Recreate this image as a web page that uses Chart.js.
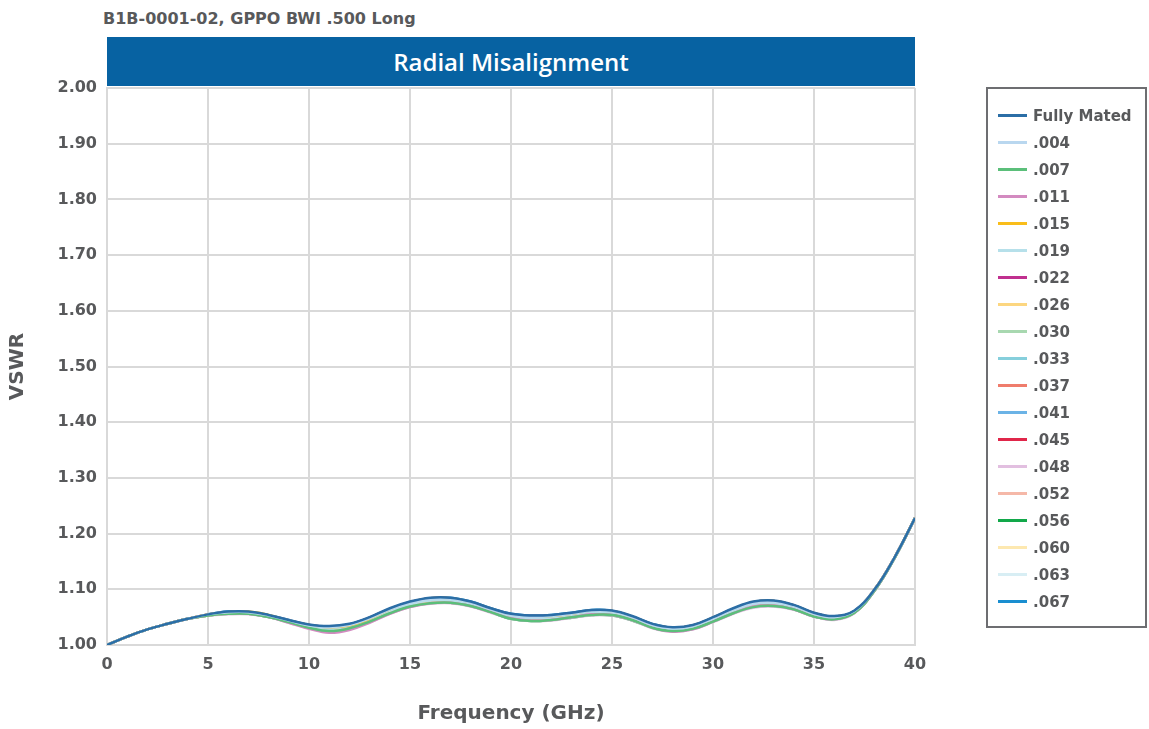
<!DOCTYPE html>
<html>
<head>
<meta charset="utf-8">
<script src="https://cdn.jsdelivr.net/npm/chart.js@4/dist/chart.umd.min.js"></script>
<style>
  body { margin: 0; background: #fff; width: 1149px; height: 729px; overflow: hidden; position: relative; }
  #subtitle { position: absolute; left: 103px; top: 9px; font: bold 16px "DejaVu Sans"; color: #58595b; white-space: nowrap; }
  #band { position: absolute; left: 107px; top: 37px; width: 808px; height: 49px; background: #0762a2;
          color: #fff; text-align: center; font: 600 24px "Open Sans"; line-height: 50px; }
  #chart { position: absolute; left: 0; top: 0; }
  #legend { position: absolute; left: 986px; top: 87px; width: 161px; height: 541px; box-sizing: border-box;
            border: 2px solid #6d6e71; padding-top: 13px; }
  .row { height: 27px; display: flex; align-items: center; }
  .swatch { width: 29px; height: 3px; margin-left: 10px; margin-right: 6px; }
  .lbl { font: bold 15px "DejaVu Sans"; color: #58595b; white-space: nowrap; }
</style>
</head>
<body>
<div id="subtitle">B1B-0001-02, GPPO BWI .500 Long</div>
<canvas id="chart" width="1149" height="729"></canvas>
<div id="band">Radial Misalignment</div>
<div id="legend"></div>
<script>
// ── DATA ──
const freq = [0,1,2,3,4,5,6,7,8,9,10,11,12,13,14,15,16,17,18,19,20,21,22,23,24,25,26,27,28,29,30,31,32,33,34,35,36,37,38,39,40];
const xTicks = [0, 5, 10, 15, 20, 25, 30, 35, 40];
const yTicks = [1.0, 1.1, 1.2, 1.3, 1.4, 1.5, 1.6, 1.7, 1.8, 1.9, 2.0];

const seriesLabels = ['Fully Mated', '.004', '.007', '.011', '.015', '.019', '.022', '.026', '.030', '.033',
                      '.037', '.041', '.045', '.048', '.052', '.056', '.060', '.063', '.067'];
const seriesColors = ['#2b6ea6', '#b9d7ef', '#5bbf7a', '#d38ac0', '#f9bd1a', '#b6e0ea', '#c0308f', '#fcd680', '#a8d8b0', '#86cfdc',
                      '#ef7c6c', '#6bb3e6', '#e0264a', '#e2bfe0', '#f5b8a8', '#12a84a', '#fde8b0', '#d8eef4', '#1a8ed0'];

const fullyMated = [1.000,1.015,1.028,1.038,1.047,1.055,1.060,1.060,1.054,1.045,1.037,1.034,1.038,1.050,1.066,1.078,1.085,1.085,1.078,1.066,1.056,1.053,1.054,1.058,1.063,1.062,1.052,1.038,1.032,1.036,1.050,1.066,1.078,1.080,1.072,1.058,1.052,1.062,1.100,1.158,1.228];
const m004 = [1.000,1.015,1.028,1.038,1.047,1.055,1.059,1.059,1.053,1.044,1.035,1.032,1.036,1.048,1.064,1.076,1.082,1.083,1.076,1.064,1.054,1.050,1.052,1.056,1.061,1.060,1.050,1.036,1.030,1.034,1.048,1.064,1.075,1.077,1.070,1.056,1.050,1.061,1.100,1.158,1.228];
const m007 = [1.000,1.015,1.028,1.038,1.047,1.053,1.056,1.056,1.050,1.041,1.031,1.025,1.030,1.042,1.057,1.069,1.075,1.076,1.070,1.059,1.047,1.043,1.045,1.050,1.054,1.054,1.045,1.031,1.025,1.029,1.042,1.057,1.068,1.070,1.064,1.051,1.046,1.058,1.098,1.157,1.228];
const m011 = [1.000,1.015,1.028,1.038,1.047,1.053,1.056,1.056,1.050,1.040,1.029,1.022,1.027,1.040,1.056,1.068,1.075,1.076,1.070,1.059,1.048,1.044,1.045,1.050,1.055,1.054,1.045,1.031,1.024,1.028,1.042,1.057,1.069,1.071,1.064,1.051,1.046,1.058,1.098,1.157,1.228];
const m015 = [1.000,1.015,1.028,1.038,1.047,1.055,1.059,1.060,1.054,1.044,1.036,1.032,1.035,1.047,1.064,1.077,1.084,1.084,1.077,1.065,1.055,1.051,1.052,1.056,1.062,1.061,1.051,1.037,1.031,1.035,1.049,1.065,1.077,1.079,1.071,1.057,1.051,1.061,1.100,1.158,1.228];
const m019 = [1.000,1.015,1.028,1.038,1.047,1.054,1.058,1.058,1.052,1.043,1.034,1.029,1.034,1.046,1.061,1.073,1.080,1.080,1.074,1.062,1.051,1.048,1.049,1.054,1.058,1.058,1.048,1.034,1.028,1.032,1.046,1.061,1.073,1.075,1.068,1.054,1.049,1.060,1.099,1.158,1.228];
const m022 = [1.000,1.015,1.028,1.038,1.047,1.054,1.058,1.058,1.053,1.044,1.035,1.030,1.034,1.046,1.062,1.074,1.081,1.081,1.075,1.063,1.052,1.049,1.050,1.055,1.059,1.058,1.049,1.035,1.028,1.032,1.046,1.062,1.074,1.076,1.068,1.055,1.049,1.060,1.099,1.158,1.228];
const m026 = [1.000,1.015,1.028,1.038,1.047,1.053,1.057,1.057,1.051,1.042,1.032,1.027,1.032,1.044,1.059,1.071,1.077,1.078,1.072,1.061,1.049,1.045,1.047,1.052,1.056,1.056,1.047,1.033,1.027,1.031,1.044,1.059,1.070,1.072,1.066,1.053,1.047,1.059,1.098,1.157,1.228];
const m030 = [1.000,1.015,1.028,1.038,1.047,1.053,1.056,1.057,1.051,1.042,1.032,1.028,1.032,1.043,1.059,1.071,1.078,1.078,1.072,1.060,1.049,1.046,1.047,1.051,1.056,1.055,1.046,1.033,1.026,1.030,1.044,1.059,1.071,1.073,1.066,1.053,1.047,1.058,1.098,1.157,1.228];
const m033 = [1.000,1.015,1.028,1.038,1.047,1.054,1.057,1.057,1.052,1.043,1.033,1.029,1.033,1.045,1.061,1.073,1.079,1.080,1.073,1.062,1.051,1.047,1.049,1.053,1.058,1.057,1.048,1.034,1.027,1.031,1.045,1.061,1.072,1.074,1.067,1.054,1.048,1.059,1.099,1.158,1.228];
const m037 = [1.000,1.015,1.028,1.038,1.047,1.054,1.058,1.058,1.053,1.044,1.035,1.031,1.035,1.047,1.063,1.075,1.082,1.082,1.076,1.064,1.053,1.050,1.051,1.055,1.060,1.059,1.050,1.036,1.029,1.033,1.047,1.063,1.075,1.077,1.069,1.055,1.050,1.060,1.099,1.158,1.228];
const m041 = [1.000,1.015,1.028,1.038,1.047,1.053,1.057,1.057,1.052,1.042,1.033,1.028,1.032,1.044,1.060,1.072,1.078,1.079,1.072,1.061,1.050,1.046,1.048,1.052,1.057,1.056,1.047,1.033,1.027,1.031,1.045,1.060,1.071,1.073,1.066,1.053,1.047,1.059,1.098,1.157,1.228];
const m045 = [1.000,1.015,1.028,1.038,1.047,1.055,1.059,1.059,1.053,1.044,1.036,1.033,1.037,1.049,1.065,1.077,1.084,1.084,1.077,1.065,1.055,1.052,1.053,1.057,1.062,1.061,1.051,1.037,1.031,1.035,1.049,1.065,1.077,1.079,1.071,1.057,1.051,1.061,1.100,1.158,1.228];
const m048 = [1.000,1.015,1.028,1.038,1.047,1.053,1.055,1.055,1.050,1.040,1.030,1.024,1.029,1.041,1.056,1.068,1.074,1.075,1.069,1.058,1.047,1.043,1.044,1.049,1.053,1.053,1.044,1.030,1.024,1.028,1.041,1.056,1.067,1.069,1.063,1.051,1.045,1.057,1.098,1.157,1.228];
const m052 = [1.000,1.015,1.028,1.038,1.047,1.053,1.056,1.056,1.051,1.041,1.032,1.027,1.031,1.043,1.058,1.070,1.077,1.077,1.071,1.060,1.049,1.045,1.046,1.051,1.055,1.055,1.046,1.032,1.026,1.030,1.044,1.058,1.070,1.072,1.065,1.052,1.047,1.058,1.098,1.157,1.228];
const m056 = [1.000,1.015,1.028,1.038,1.047,1.053,1.056,1.056,1.050,1.041,1.031,1.026,1.030,1.042,1.057,1.069,1.076,1.076,1.070,1.059,1.047,1.043,1.045,1.049,1.054,1.053,1.044,1.031,1.025,1.029,1.042,1.057,1.068,1.070,1.064,1.051,1.046,1.058,1.098,1.157,1.228];
const m060 = [1.000,1.015,1.028,1.038,1.047,1.054,1.058,1.058,1.052,1.043,1.034,1.029,1.033,1.045,1.060,1.072,1.079,1.079,1.073,1.062,1.051,1.048,1.049,1.053,1.058,1.057,1.048,1.034,1.028,1.032,1.046,1.061,1.072,1.074,1.067,1.054,1.048,1.059,1.099,1.158,1.228];
const m063 = [1.000,1.015,1.028,1.038,1.047,1.053,1.057,1.057,1.051,1.042,1.032,1.027,1.031,1.043,1.059,1.071,1.077,1.078,1.072,1.061,1.049,1.045,1.047,1.052,1.056,1.055,1.046,1.033,1.027,1.031,1.044,1.059,1.070,1.072,1.066,1.053,1.047,1.058,1.098,1.157,1.228];
const m067 = [1.000,1.015,1.028,1.038,1.047,1.055,1.060,1.059,1.053,1.045,1.036,1.033,1.037,1.049,1.065,1.077,1.084,1.085,1.078,1.066,1.056,1.053,1.054,1.058,1.063,1.061,1.051,1.038,1.031,1.035,1.049,1.065,1.077,1.079,1.071,1.057,1.051,1.061,1.100,1.158,1.228];

const seriesValues = [fullyMated, m004, m007, m011, m015, m019, m022, m026, m030, m033,
                      m037, m041, m045, m048, m052, m056, m060, m063, m067];

const TEXT = '#58595b';
const GRID = '#d9d9d9';

// ── LEGEND (html) ──
const legendEl = document.getElementById('legend');
legendEl.innerHTML = seriesLabels.map((l, i) => `
    <div class="row"><div class="swatch" style="background:${seriesColors[i]}"></div><span class="lbl">${l}</span></div>
`).join('');

// ── CHART ──
const datasets = seriesLabels.map((label, i) => ({
    label,
    data: freq.map((f, j) => ({ x: f, y: seriesValues[i][j] })),
    borderColor: seriesColors[i],
    borderWidth: 2.5,
    pointRadius: 0,
    fill: false,
    tension: 0.4
}));

new Chart(document.getElementById('chart'), {
    type: 'line',
    data: { datasets },
    options: {
        responsive: false,
        animation: false,
        devicePixelRatio: 1,
        layout: { padding: { left: 0, right: 234, top: 88, bottom: 0 } },
        plugins: { legend: { display: false }, tooltip: { enabled: false } },
        scales: {
            x: {
                type: 'linear',
                min: 0, max: 40,
                afterBuildTicks: s => { s.ticks = xTicks.map(v => ({ value: v })); },
                afterFit: s => { s.height = 84; },
                grid: { color: GRID, lineWidth: 2, drawTicks: false },
                border: { color: GRID, width: 2 },
                ticks: { padding: 10, color: TEXT, font: { family: 'DejaVu Sans', weight: 'bold', size: 16 } },
                title: { display: true, text: 'Frequency (GHz)', color: TEXT,
                         padding: { top: 0, bottom: 3 }, font: { family: 'DejaVu Sans', weight: 'bold', size: 20 } }
            },
            y: {
                min: 1.0, max: 2.0,
                afterBuildTicks: s => { s.ticks = yTicks.map(v => ({ value: v })); },
                afterFit: s => { s.width = 107; },
                grid: { color: GRID, lineWidth: 2, drawTicks: false },
                border: { color: GRID, width: 2 },
                ticks: { padding: 10, color: TEXT, font: { family: 'DejaVu Sans', weight: 'bold', size: 16 },
                         callback: v => v.toFixed(2) },
                title: { display: true, text: 'VSWR', color: TEXT,
                         padding: { top: 6, bottom: 0 }, font: { family: 'DejaVu Sans', weight: 'bold', size: 20 } }
            }
        }
    }
});
</script>
</body>
</html>
